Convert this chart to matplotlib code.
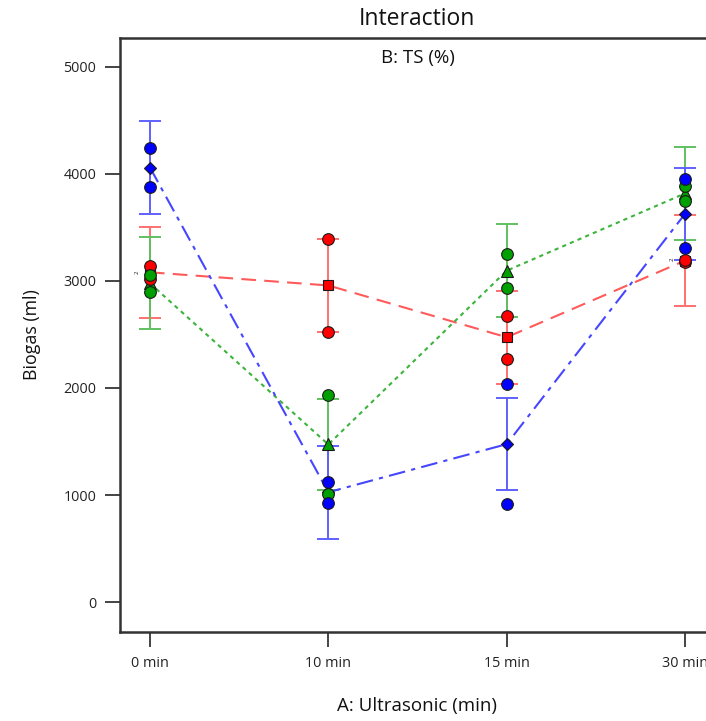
import matplotlib
matplotlib.use("Agg")
import matplotlib.pyplot as plt

plt.rcParams['font.family'] = ['Open Sans', 'DejaVu Sans']

categories = ["0 min", "10 min", "15 min", "30 min"]
yticks = [0, 1000, 2000, 3000, 4000, 5000]

# B: TS levels (three series)
blue_mean = [4060, 1026, 1475, 3627]
red_mean = [3081, 2958, 2474, 3190]
green_mean = [2978, 1472, 3096, 3818]

blue_half = [430, 436, 432, 431]
red_half = [427, 432, 436, 428]
green_half = [428, 429, 432, 435]

blue_obs = [[4243, 3879], [1124, 928], [2034, 916], [3950, 3305]]
red_obs = [[3143, 3020], [3390, 2526], [2676, 2271], [3181, 3200]]
green_obs = [[3056, 2900], [1935, 1009], [3256, 2935], [3888, 3748]]

W, H = 706, 721
fig = plt.figure(figsize=(W / 100, H / 100), dpi=100)
ax = fig.add_axes([120 / W, (H - 632) / H, (715 - 120) / W, (632 - 38) / H])

x = list(range(len(categories)))

series = [
    ("red", red_mean, red_half, red_obs, '#FF0000', '#FF5A5A', '#FF7070', 's', (0, (7, 4)), 7.5),
    ("green", green_mean, green_half, green_obs, '#00A000', '#3CB43C', '#60C060', '^', (0, (2, 2)), 8),
    ("blue", blue_mean, blue_half, blue_obs, '#0000FF', '#4646FF', '#6060FF', 'D', (0, (8, 3, 2, 3)), 6),
]

# error bars
for name, mean, half, obs, fc, lc, ec, mk, ls, ms in series:
    ax.errorbar(x, mean, yerr=half, fmt='none', ecolor=ec, elinewidth=1.4,
                capsize=8, capthick=1.4, zorder=2)

# mean lines
for name, mean, half, obs, fc, lc, ec, mk, ls, ms in series:
    ax.plot(x, mean, color=lc, lw=1.5, linestyle=ls, zorder=3)

# mean markers
for name, mean, half, obs, fc, lc, ec, mk, ls, ms in series:
    ax.plot(x, mean, marker=mk, ms=ms, mfc=fc, mec='#1a1a1a', mew=0.8,
            linestyle='none', zorder=4)

# observations
for name, mean, half, obs, fc, lc, ec, mk, ls, ms in series:
    for i, vals in enumerate(obs):
        ax.plot([x[i]] * len(vals), vals, 'o', ms=8.4, mfc=fc, mec='#1a1a1a',
                mew=0.8, zorder=5, linestyle='none')

# small overlap count labels
ax.text(x[0] - 0.07, 3081, "2", fontsize=4.5, rotation=90, ha='center', va='center',
        color='#222222', zorder=6)
ax.text(x[3] - 0.07, 3200, "2", fontsize=4.5, rotation=90, ha='center', va='center',
        color='#222222', zorder=6)

ax.set_xlim(-0.168, 3.168)
ax.set_ylim(-280, 5270)
ax.set_xticks(x)
ax.set_xticklabels(categories)
ax.set_yticks(yticks)
ax.set_yticklabels([str(v) for v in yticks])

for s in ['top', 'left', 'bottom', 'right']:
    ax.spines[s].set_color('#333333')
    ax.spines[s].set_linewidth(1.8)

ax.tick_params(axis='both', direction='out', length=11, width=1.4, color='#444444',
               labelsize=10.4, labelcolor='#222222')
ax.tick_params(axis='x', pad=6)
ax.tick_params(axis='y', pad=6)

fig.text(417 / W, 1 - 19 / H, "Interaction", ha='center', va='center', fontsize=16.5, color='#111111')
ax.text(0.5, 1 - (58 - 38) / (632 - 38), "B: TS (%)", transform=ax.transAxes,
        ha='center', va='center', fontsize=13.5, color='#111111')
fig.text(417 / W, 1 - 706 / H, "A: Ultrasonic (min)", ha='center', va='center', fontsize=13.5, color='#111111')
fig.text(32 / W, 1 - 335 / H, "Biogas (ml)", ha='center', va='center', rotation=90, fontsize=12.8, color='#111111')

fig.savefig("out.png", dpi=100)
